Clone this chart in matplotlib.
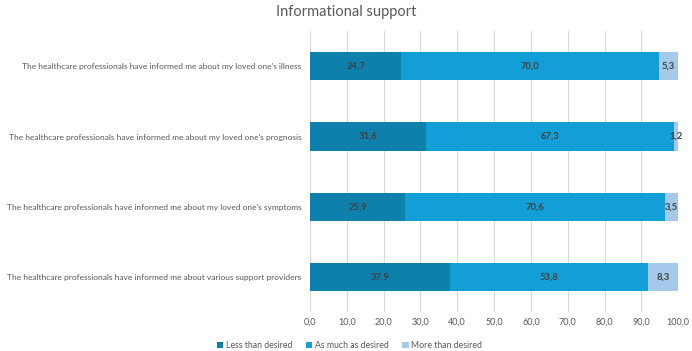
import numpy as np
import matplotlib.pyplot as plt
from matplotlib.ticker import FuncFormatter

plt.rcParams['font.family'] = ['Lato', 'DejaVu Sans']

# categories top to bottom
items = ["The healthcare professionals have informed me about my loved one's illness",
         "The healthcare professionals have informed me about my loved one's prognosis",
         "The healthcare professionals have informed me about my loved one's symptoms",
         "The healthcare professionals have informed me about various support providers"]
less = [24.7, 31.6, 25.9, 37.9]
asmuch = [70.0, 67.3, 70.6, 53.8]
more = [5.3, 1.2, 3.5, 8.3]
series = ["Less than desired", "As much as desired", "More than desired"]
colors = ["#0E80AC", "#129FD7", "#A4C9E9"]

fig = plt.figure(figsize=(6.92, 3.51), dpi=100)
ax = fig.add_axes([0.448, 0.111, 0.532, 0.80])

y = np.arange(len(items))[::-1]
left = np.zeros(len(items))
for name, vals, c in zip(series, [less, asmuch, more], colors):
    vals = np.array(vals)
    ax.barh(y, vals, left=left, height=0.4, color=c, label=name, zorder=3)
    for yi, l, v in zip(y, left, vals):
        ax.text(l + v / 2, yi, f"{v:.1f}".replace(".", ","), ha='center', va='center',
                fontsize=6.8, color='#404040', fontweight='bold', zorder=4)
    left = left + vals

ax.set_xlim(0, 100)
ax.set_ylim(-0.5, len(items) - 0.5)
ax.set_xticks(np.arange(0, 101, 10))
ax.xaxis.set_major_formatter(FuncFormatter(lambda v, p: f"{v:.1f}".replace(".", ",")))
ax.set_yticks(y)
ax.set_yticklabels(items)
ax.tick_params(axis='both', length=0, labelsize=6.0, colors='#595959')
ax.tick_params(axis='x', labelsize=6.5, pad=4)
ax.tick_params(axis='y', pad=6)
ax.grid(axis='x', color='#D9D9D9', linewidth=0.8, zorder=0)
for s in ax.spines.values():
    s.set_visible(False)

fig.suptitle("Informational support", x=0.5, y=0.985, fontsize=10.5, color='#595959')
fig.legend(loc='lower center', bbox_to_anchor=(0.505, -0.02),
           ncol=3, frameon=False, fontsize=6.3, labelcolor='#595959',
           handlelength=0.7, handleheight=0.7, handletextpad=0.3, columnspacing=1.6)

fig.savefig("out.png", dpi=100)
